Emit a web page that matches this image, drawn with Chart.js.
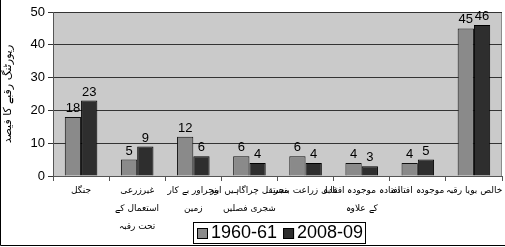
<!DOCTYPE html>
<html>
<head>
<meta charset="utf-8">
<script src="https://cdn.jsdelivr.net/npm/chart.js@4.4.1/dist/chart.umd.min.js"></script>
<style>
  html, body { margin: 0; padding: 0; background: #fff; }
  #wrap { width: 505px; height: 247px; position: relative; }
</style>
</head>
<body>
<div id="wrap"><canvas id="landUse" width="505" height="247"></canvas></div>
<script>
// chart values
const categories = [
    ['جنگل'],
    ['غیرزرعی', 'استعمال کے', 'تحت رقبہ'],
    ['بنجراور بے کار', 'زمین'],
    ['مستقل چراگاہیں اور', 'شجری فصلیں'],
    ['قابل زراعت بنجر'],
    ['افتادہ موجودہ افتادہ', 'کے علاوہ'],
    ['موجودہ افتادہ'],
    ['خالص بویا رقبہ']
];
const seriesNames = ['1960-61', '2008-09'];
const values1960 = [18, 5, 12, 6, 6, 4, 4, 45];
const values2008 = [23, 9, 6, 4, 4, 3, 5, 46];
const yTitle = 'رپورٹنگ رقبے کا فیصد';

const latinFont = "'Liberation Sans', Arial, sans-serif";
const urduFont = "'DejaVu Sans', sans-serif";

// grey plot background, value labels, legend box and frame
const extras = {
    id: 'extras',
    beforeDraw(chart) {
        const { ctx, chartArea: a } = chart;
        ctx.save();
        ctx.fillStyle = '#cacaca';
        ctx.fillRect(a.left, a.top, a.right - a.left, a.bottom - a.top);
        ctx.strokeStyle = '#8c8c8c';
        ctx.lineWidth = 1;
        ctx.beginPath();
        ctx.moveTo(a.left, a.top + 0.5);
        ctx.lineTo(a.right - 0.5, a.top + 0.5);
        ctx.lineTo(a.right - 0.5, a.bottom);
        ctx.stroke();
        ctx.restore();
    },
    afterDraw(chart) {
        const { ctx } = chart;
        ctx.save();
        // value labels
        ctx.fillStyle = '#000';
        ctx.font = '13px ' + latinFont;
        ctx.textAlign = 'center';
        ctx.textBaseline = 'bottom';
        chart.data.datasets.forEach((ds, i) => {
            chart.getDatasetMeta(i).data.forEach((bar, j) => {
                ctx.fillText(ds.data[j], bar.x, bar.y - 2);
            });
        });
        // legend
        const lx = 193, ly = 222, lw = 172, lh = 21;
        ctx.fillStyle = '#fff';
        ctx.fillRect(lx, ly, lw, lh);
        ctx.strokeStyle = '#000';
        ctx.lineWidth = 1;
        ctx.strokeRect(lx + 0.5, ly + 0.5, lw, lh);
        ctx.font = '18px ' + latinFont;
        ctx.textAlign = 'left';
        ctx.textBaseline = 'middle';
        let x = lx + 4;
        chart.data.datasets.forEach((ds) => {
            ctx.fillStyle = ds.backgroundColor;
            ctx.fillRect(x, ly + 6, 11, 11);
            ctx.strokeStyle = '#000';
            ctx.strokeRect(x + 0.5, ly + 6.5, 10, 10);
            ctx.fillStyle = '#000';
            ctx.fillText(ds.label, x + 14, ly + lh / 2 + 1);
            x += 14 + ctx.measureText(ds.label).width + 6;
        });
        // outer frame (left and bottom)
        ctx.strokeStyle = '#000';
        ctx.beginPath();
        ctx.moveTo(0.5, 0);
        ctx.lineTo(0.5, 245.5);
        ctx.lineTo(505, 245.5);
        ctx.stroke();
        ctx.restore();
    }
};

new Chart(document.getElementById('landUse'), {
    type: 'bar',
    data: {
        labels: categories,
        datasets: [{
            label: seriesNames[0],
            data: values1960,
            backgroundColor: '#8a8a8a',
            borderColor: '#111',
            borderWidth: 1,
            categoryPercentage: 0.58,
            barPercentage: 1.0
        }, {
            label: seriesNames[1],
            data: values2008,
            backgroundColor: '#2e2e2e',
            borderColor: '#000',
            borderWidth: 1,
            categoryPercentage: 0.58,
            barPercentage: 1.0
        }]
    },
    options: {
        responsive: false,
        animation: false,
        layout: {
            padding: { top: 12, right: 3, left: 0, bottom: 0 }
        },
        plugins: {
            legend: { display: false },
            tooltip: { enabled: false }
        },
        scales: {
            x: {
                grid: {
                    display: true,
                    drawOnChartArea: false,
                    offset: true,
                    color: '#555',
                    tickLength: 5
                },
                border: { color: '#555' },
                ticks: {
                    autoSkip: false,
                    maxRotation: 0,
                    minRotation: 0,
                    padding: 1,
                    color: '#000',
                    font: { family: urduFont, size: 9, lineHeight: 2 }
                },
                afterFit(scale) { scale.height = 71; }
            },
            y: {
                min: 0,
                max: 50,
                ticks: {
                    stepSize: 5,
                    padding: 3,
                    color: '#000',
                    font: { family: latinFont, size: 13 }
                },
                grid: {
                    color: '#333',
                    tickLength: 5
                },
                border: { color: '#555' },
                title: {
                    display: true,
                    text: yTitle,
                    color: '#000',
                    padding: { top: 2, bottom: 0 },
                    font: { family: urduFont, size: 11 }
                },
                afterFit(scale) { scale.width = 53; }
            }
        }
    },
    plugins: [extras]
});
</script>
</body>
</html>
